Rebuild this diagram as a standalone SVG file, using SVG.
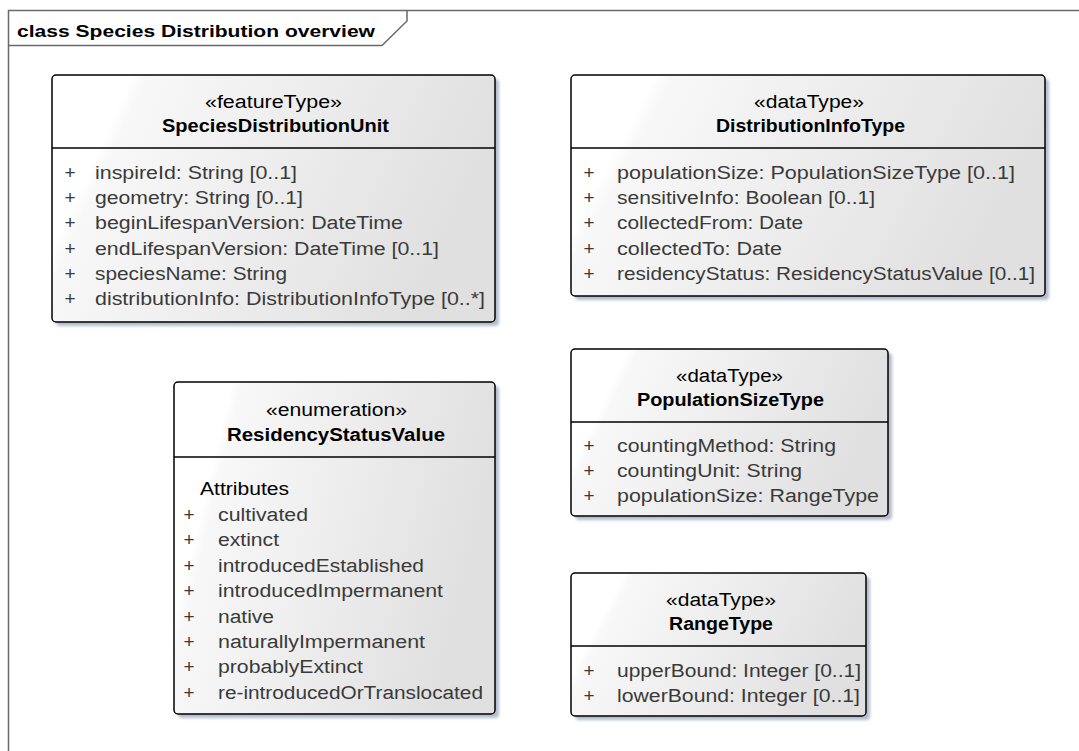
<svg xmlns="http://www.w3.org/2000/svg" width="1079" height="751" viewBox="0 0 1079 751">
<defs>
<linearGradient id="fill" x1="0" y1="0" x2="1" y2="0.25">
<stop offset="0" stop-color="#ffffff"/>
<stop offset="0.17" stop-color="#ffffff"/>
<stop offset="0.2" stop-color="#f8f8f8"/>
<stop offset="1" stop-color="#e0e0e0"/>
</linearGradient>
<filter id="blur" x="-5%" y="-5%" width="110%" height="110%">
<feGaussianBlur stdDeviation="1.5"/>
</filter>
</defs>
<style>
.frame{fill:none;stroke:#6a6a6a;stroke-width:1.5}
.title{font-family:"Liberation Sans",Arial,sans-serif;font-weight:bold;font-size:17px;fill:#000}
.shadow{fill:#b4bccd;filter:url(#blur)}
.box{fill:url(#fill);stroke:#000;stroke-width:1.5}
.sep{stroke:#000;stroke-width:1.3}
.st{font-family:"Liberation Sans",Arial,sans-serif;font-size:18px;fill:#000}
.nm{font-family:"Liberation Sans",Arial,sans-serif;font-size:18px;font-weight:bold;fill:#000}
.at{font-family:"Liberation Sans",Arial,sans-serif;font-size:18px;fill:#3a3a3a}
.pl{font-family:"Liberation Sans",Arial,sans-serif;font-size:19px;fill:#3a3a3a;text-anchor:middle}
</style>
<g id="frame">
<polyline class="frame" points="1079,10.5 8.5,10.5 8.5,751"/>
<polyline class="frame" points="8.5,45.5 382,45.5 407,21 407,10.5"/>
<text class="title" x="17" y="37" textLength="358" lengthAdjust="spacingAndGlyphs">class Species Distribution overview</text>
</g>
<g id="connectors"></g>
<g id="SpeciesDistributionUnit">
<rect class="shadow" x="56" y="79" width="443" height="247" rx="4"/>
<rect class="box" x="52" y="75" width="443" height="247" rx="4"/>
<line class="sep" x1="52" y1="148" x2="495" y2="148"/>
<text class="st" x="205" y="108" textLength="137" lengthAdjust="spacingAndGlyphs">«featureType»</text>
<text class="nm" x="162" y="132" textLength="227" lengthAdjust="spacingAndGlyphs">SpeciesDistributionUnit</text>
<text class="pl" x="70" y="179">+</text><text class="at" x="95" y="179" textLength="202" lengthAdjust="spacingAndGlyphs">inspireId: String [0..1]</text>
<text class="pl" x="70" y="204.2">+</text><text class="at" x="95" y="204.2" textLength="208" lengthAdjust="spacingAndGlyphs">geometry: String [0..1]</text>
<text class="pl" x="70" y="229.4">+</text><text class="at" x="95" y="229.4" textLength="308" lengthAdjust="spacingAndGlyphs">beginLifespanVersion: DateTime</text>
<text class="pl" x="70" y="254.6">+</text><text class="at" x="95" y="254.6" textLength="344" lengthAdjust="spacingAndGlyphs">endLifespanVersion: DateTime [0..1]</text>
<text class="pl" x="70" y="279.8">+</text><text class="at" x="95" y="279.8" textLength="192" lengthAdjust="spacingAndGlyphs">speciesName: String</text>
<text class="pl" x="70" y="305">+</text><text class="at" x="95" y="305" textLength="390" lengthAdjust="spacingAndGlyphs">distributionInfo: DistributionInfoType [0..*]</text>
</g>
<g id="DistributionInfoType">
<rect class="shadow" x="575" y="79" width="474" height="221" rx="4"/>
<rect class="box" x="571" y="75" width="474" height="221" rx="4"/>
<line class="sep" x1="571" y1="148" x2="1045" y2="148"/>
<text class="st" x="754" y="108" textLength="110" lengthAdjust="spacingAndGlyphs">«dataType»</text>
<text class="nm" x="716" y="132" textLength="189" lengthAdjust="spacingAndGlyphs">DistributionInfoType</text>
<text class="pl" x="589" y="179">+</text><text class="at" x="617" y="179" textLength="398" lengthAdjust="spacingAndGlyphs">populationSize: PopulationSizeType [0..1]</text>
<text class="pl" x="589" y="204.2">+</text><text class="at" x="617" y="204.2" textLength="258" lengthAdjust="spacingAndGlyphs">sensitiveInfo: Boolean [0..1]</text>
<text class="pl" x="589" y="229.4">+</text><text class="at" x="617" y="229.4" textLength="186" lengthAdjust="spacingAndGlyphs">collectedFrom: Date</text>
<text class="pl" x="589" y="254.6">+</text><text class="at" x="617" y="254.6" textLength="165" lengthAdjust="spacingAndGlyphs">collectedTo: Date</text>
<text class="pl" x="589" y="279.8">+</text><text class="at" x="617" y="279.8" textLength="418" lengthAdjust="spacingAndGlyphs">residencyStatus: ResidencyStatusValue [0..1]</text>
</g>
<g id="ResidencyStatusValue">
<rect class="shadow" x="178" y="386" width="321" height="332" rx="4"/>
<rect class="box" x="174" y="382" width="321" height="332" rx="4"/>
<line class="sep" x1="174" y1="457" x2="495" y2="457"/>
<text class="st" x="266" y="416" textLength="141" lengthAdjust="spacingAndGlyphs">«enumeration»</text>
<text class="nm" x="227" y="441" textLength="218" lengthAdjust="spacingAndGlyphs">ResidencyStatusValue</text>
<text class="at" x="200" y="495" textLength="89" lengthAdjust="spacingAndGlyphs" style="fill:#000">Attributes</text>
<text class="pl" x="189" y="521">+</text><text class="at" x="218" y="521" textLength="90" lengthAdjust="spacingAndGlyphs">cultivated</text>
<text class="pl" x="189" y="546.4">+</text><text class="at" x="218" y="546.4" textLength="61" lengthAdjust="spacingAndGlyphs">extinct</text>
<text class="pl" x="189" y="571.8">+</text><text class="at" x="218" y="571.8" textLength="206" lengthAdjust="spacingAndGlyphs">introducedEstablished</text>
<text class="pl" x="189" y="597.2">+</text><text class="at" x="218" y="597.2" textLength="225" lengthAdjust="spacingAndGlyphs">introducedImpermanent</text>
<text class="pl" x="189" y="622.6">+</text><text class="at" x="218" y="622.6" textLength="56" lengthAdjust="spacingAndGlyphs">native</text>
<text class="pl" x="189" y="648">+</text><text class="at" x="218" y="648" textLength="207" lengthAdjust="spacingAndGlyphs">naturallyImpermanent</text>
<text class="pl" x="189" y="673.4">+</text><text class="at" x="218" y="673.4" textLength="145" lengthAdjust="spacingAndGlyphs">probablyExtinct</text>
<text class="pl" x="189" y="698.8">+</text><text class="at" x="218" y="698.8" textLength="265" lengthAdjust="spacingAndGlyphs">re-introducedOrTranslocated</text>
</g>
<g id="PopulationSizeType">
<rect class="shadow" x="575" y="353" width="317" height="167" rx="4"/>
<rect class="box" x="571" y="349" width="317" height="167" rx="4"/>
<line class="sep" x1="571" y1="422" x2="888" y2="422"/>
<text class="st" x="676" y="382" textLength="107" lengthAdjust="spacingAndGlyphs">«dataType»</text>
<text class="nm" x="637" y="406" textLength="187" lengthAdjust="spacingAndGlyphs">PopulationSizeType</text>
<text class="pl" x="589" y="452">+</text><text class="at" x="617" y="452" textLength="219" lengthAdjust="spacingAndGlyphs">countingMethod: String</text>
<text class="pl" x="589" y="477.2">+</text><text class="at" x="617" y="477.2" textLength="185" lengthAdjust="spacingAndGlyphs">countingUnit: String</text>
<text class="pl" x="589" y="502.4">+</text><text class="at" x="617" y="502.4" textLength="262" lengthAdjust="spacingAndGlyphs">populationSize: RangeType</text>
</g>
<g id="RangeType">
<rect class="shadow" x="575" y="577" width="295" height="143" rx="4"/>
<rect class="box" x="571" y="573" width="295" height="143" rx="4"/>
<line class="sep" x1="571" y1="646" x2="866" y2="646"/>
<text class="st" x="666" y="606" textLength="110" lengthAdjust="spacingAndGlyphs">«dataType»</text>
<text class="nm" x="669" y="630" textLength="104" lengthAdjust="spacingAndGlyphs">RangeType</text>
<text class="pl" x="589" y="677">+</text><text class="at" x="617" y="677" textLength="244" lengthAdjust="spacingAndGlyphs">upperBound: Integer [0..1]</text>
<text class="pl" x="589" y="702">+</text><text class="at" x="617" y="702" textLength="243" lengthAdjust="spacingAndGlyphs">lowerBound: Integer [0..1]</text>
</g>
</svg>
